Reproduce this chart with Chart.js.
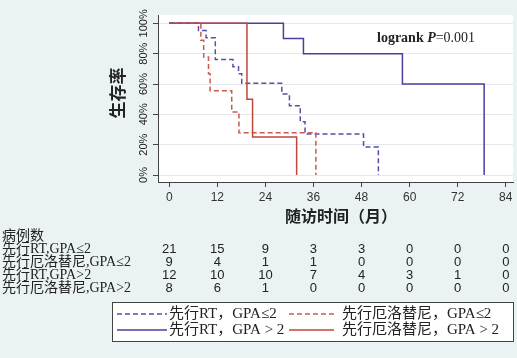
<!DOCTYPE html>
<html>
<head>
<meta charset="utf-8">
<script src="https://cdn.jsdelivr.net/npm/chart.js@4"></script>
<style>
  html, body { margin: 0; padding: 0; background: #eaf2f3; }
  canvas { display: block; }
</style>
</head>
<body>
<canvas id="km" width="517" height="358"></canvas>
<script>
// follow-up months (x ticks / risk table columns)
var months = [0, 12, 24, 36, 48, 60, 72, 84];
var yTicks = [0, 20, 40, 60, 80, 100];

// Kaplan-Meier steps: time (months) and survival (%)
var rtLowT = [0, 7.3, 9.2, 11.5, 15.9, 17.3, 18.1, 28.1, 30.0, 32.7, 33.9, 48.5, 52.2];
var rtLowS = [100, 95.2, 90.5, 76.2, 71.4, 66.7, 60.5, 53.4, 45.7, 35.1, 27.0, 18.4, 0];
var erLowT = [0, 7.9, 8.6, 9.8, 10.2, 15.6, 17.4, 36.6];
var erLowS = [100, 88.9, 77.8, 66.7, 55.6, 41.5, 27.8, 0];
var rtHighT = [0, 28.5, 33.5, 58.2, 78.6];
var rtHighS = [100, 90, 80, 60, 0];
var erHighT = [0, 19.4, 20.8, 31.8];
var erHighS = [100, 50, 25, 0];

// number at risk
var riskLabels = ["先行RT,GPA≤2", "先行厄洛替尼,GPA≤2", "先行RT,GPA>2", "先行厄洛替尼,GPA>2"];
var riskRtLow = [21, 15, 9, 3, 3, 0, 0, 0];
var riskErLow = [9, 4, 1, 1, 0, 0, 0, 0];
var riskRtHigh = [12, 10, 10, 7, 4, 3, 1, 0];
var riskErHigh = [8, 6, 1, 0, 0, 0, 0, 0];

var legendLabels = ["先行RT，GPA≤2", "先行厄洛替尼，GPA≤2", "先行RT，GPA > 2", "先行厄洛替尼，GPA > 2"];

var blueSolid = "#4b3f9b";
var blueDash = "#5a4ea8";
var redSolid = "#c0463c";
var redDash = "#ca5a50";

function pts(t, s) {
    return t.map(function (v, i) { return { x: v, y: s[i] }; });
}

function series(label, t, s, color, dash) {
    return {
        label: label,
        data: pts(t, s),
        borderColor: color,
        borderWidth: 1.5,
        borderDash: dash,
        pointRadius: 0,
        fill: false,
        stepped: true
    };
}

var serifCJK = '"Liberation Serif", "Noto Sans CJK SC"';

var extras = {
    id: "extras",
    beforeDraw: function (chart) {
        var c = chart.ctx, a = chart.chartArea;
        c.save();
        c.fillStyle = "#eaf2f3";
        c.fillRect(0, 0, chart.width, chart.height);
        c.fillStyle = "#ffffff";
        c.fillRect(a.left, a.top, a.right - a.left, a.bottom - a.top);
        c.restore();
    },
    afterDraw: function (chart) {
        var c = chart.ctx;
        var xs = chart.scales.x, ys = chart.scales.y;
        c.save();
        c.fillStyle = "#222";
        c.textBaseline = "middle";

        // y tick labels, rotated
        c.font = '11px "Liberation Sans"';
        c.textAlign = "center";
        yTicks.forEach(function (v) {
            c.save();
            c.translate(144, ys.getPixelForValue(v));
            c.rotate(-Math.PI / 2);
            c.fillText(v + "%", 0, 0);
            c.restore();
        });

        // y title
        c.font = 'bold 17px "Noto Sans CJK SC"';
        c.save();
        c.translate(118, 93);
        c.rotate(-Math.PI / 2);
        c.fillText("生存率", 0, 0);
        c.restore();

        // x title
        c.font = 'bold 16px "Noto Sans CJK SC"';
        c.fillText("随访时间（月）", 341, 216);

        // logrank
        c.textAlign = "left";
        var lx = 377, ly = 38;
        c.font = 'bold 14px "Liberation Serif"';
        c.fillText("logrank ", lx, ly);
        lx += c.measureText("logrank ").width;
        c.font = 'italic bold 14px "Liberation Serif"';
        c.fillText("P", lx, ly);
        lx += c.measureText("P").width;
        c.font = '14px "Liberation Serif"';
        c.fillText("=0.001", lx, ly);

        // risk table
        c.font = '14px "Noto Sans CJK SC"';
        c.fillText("病例数", 2, 235);
        var rows = [riskRtLow, riskErLow, riskRtHigh, riskErHigh];
        var rowY = [249, 262, 275, 288];
        rows.forEach(function (r, i) {
            c.textAlign = "left";
            c.font = "14px " + serifCJK;
            c.fillText(riskLabels[i], 2, rowY[i]);
            c.textAlign = "center";
            c.font = '13px "Liberation Sans"';
            r.forEach(function (n, j) {
                c.fillText(String(n), xs.getPixelForValue(months[j]), rowY[i]);
            });
        });

        // legend
        c.fillStyle = "#ffffff";
        c.fillRect(112.5, 302.5, 401, 39);
        c.strokeStyle = "#444";
        c.lineWidth = 1;
        c.strokeRect(112.5, 302.5, 401, 39);
        var items = [
            { x1: 117, x2: 167, tx: 169, y: 314, color: blueDash, dash: [5, 3] },
            { x1: 289, x2: 334, tx: 342, y: 314, color: redDash, dash: [5, 3] },
            { x1: 117, x2: 167, tx: 169, y: 330, color: blueSolid, dash: [] },
            { x1: 289, x2: 334, tx: 342, y: 330, color: redSolid, dash: [] }
        ];
        items.forEach(function (it, i) {
            c.beginPath();
            c.setLineDash(it.dash);
            c.strokeStyle = it.color;
            c.lineWidth = 1.5;
            c.moveTo(it.x1, it.y);
            c.lineTo(it.x2, it.y);
            c.stroke();
            c.setLineDash([]);
            c.fillStyle = "#222";
            c.textAlign = "left";
            c.font = "15px " + serifCJK;
            c.fillText(legendLabels[i], it.tx, it.y);
        });
        c.restore();
    }
};

var ctx = document.getElementById("km").getContext("2d");
var kmChart = new Chart(ctx, {
    type: "line",
    data: {
        datasets: [
            series(legendLabels[3], erHighT, erHighS, redSolid, []),
            series(legendLabels[2], rtHighT, rtHighS, blueSolid, []),
            series(legendLabels[1], erLowT, erLowS, redDash, [5, 3]),
            series(legendLabels[0], rtLowT, rtLowS, blueDash, [5, 3])
        ]
    },
    options: {
        responsive: false,
        animation: false,
        devicePixelRatio: 1,
        layout: { padding: { left: 0, top: 15, right: 4, bottom: 0 } },
        plugins: {
            legend: { display: false },
            tooltip: { enabled: false }
        },
        scales: {
            x: {
                type: "linear",
                min: -2.8,
                max: 85.8,
                afterBuildTicks: function (s) {
                    s.ticks = months.map(function (v) { return { value: v }; });
                },
                afterFit: function (s) { s.height = 176; },
                ticks: {
                    autoSkip: false,
                    maxRotation: 0,
                    padding: 3,
                    color: "#333",
                    font: { family: "Liberation Sans", size: 12 }
                },
                grid: { drawOnChartArea: false, tickLength: 5, tickColor: "#444" },
                border: { color: "#444" }
            },
            y: {
                min: -4.6,
                max: 105.5,
                afterBuildTicks: function (s) {
                    s.ticks = yTicks.map(function (v) { return { value: v }; });
                },
                afterFit: function (s) { s.width = 158; },
                ticks: { display: false },
                grid: { color: "#e1e9ec", tickLength: 5, tickColor: "#444" },
                border: { color: "#444" }
            }
        }
    },
    plugins: [extras]
});
</script>
</body>
</html>
